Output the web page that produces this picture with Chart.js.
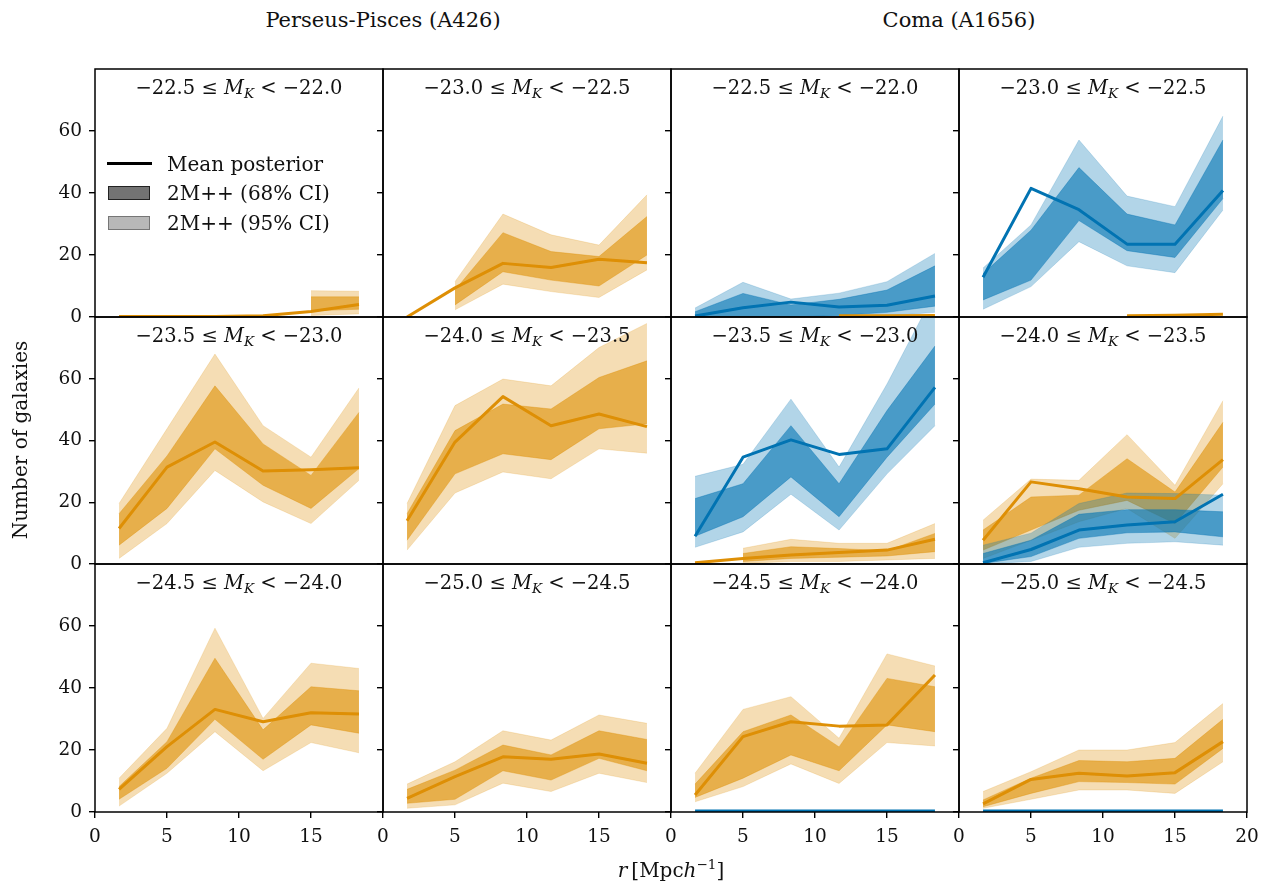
<!DOCTYPE html>
<html><head><meta charset="utf-8">
<script src="https://cdn.jsdelivr.net/npm/chart.js@4.4.0/dist/chart.umd.min.js"></script>
<style>
html,body{margin:0;padding:0;background:#fff}
body{width:1264px;height:883px;position:relative;overflow:hidden;font-family:"DejaVu Serif",serif;color:#111}
canvas{position:absolute}
.t{position:absolute;white-space:nowrap;font-size:20px;line-height:1;z-index:5}
.c{transform:translate(-50%,-50%)}
.ttl{font-size:19.5px}
.hdr{font-size:21px}
.sub{font-style:italic;font-size:13.5px;position:relative;top:4px}
.sup{font-size:13.5px;position:relative;top:-8px}
.sw{position:absolute;z-index:5;box-sizing:border-box}
</style></head><body>
<script>
// ---------------- data ----------------
const rBins = [1.67, 5.0, 8.33, 11.67, 15.0, 18.33];
const yTicks = [0, 20, 40, 60];
const xTicksInner = [0, 5, 10, 15];
const xTicksLast = [0, 5, 10, 15, 20];
const clusterNames = ['Perseus-Pisces (A426)', 'Coma (A1656)'];
const magLo = ['−22.5', '−23.0', '−23.5', '−24.0', '−24.5', '−25.0'];
const magHi = ['−22.0', '−22.5', '−23.0', '−23.5', '−24.0', '−24.5'];
const legendLabels = ['Mean posterior', '2M++ (68% CI)', '2M++ (95% CI)'];
const xLabelHTML = '<i>r</i>&thinsp;[Mpc<i>h</i><span class="sup">−1</span>]';
const yLabelText = 'Number of galaxies';

// Perseus-Pisces (orange)
const pp_b0_mean = [0.2, 0.2, 0.2, 0.4, 1.8, 4.0];
const pp_b0_lo95 = [null, null, null, null, 0.5, 1.0];
const pp_b0_hi95 = [null, null, null, null, 8.5, 8.3];
const pp_b0_lo68 = [null, null, null, null, 2.0, 2.5];
const pp_b0_hi68 = [null, null, null, null, 6.5, 6.5];

const pp_b1_mean = [0.0, 9.4, 17.3, 16.0, 18.6, 17.5];
const pp_b1_lo95 = [null, 2.3, 10.6, 8.2, 6.3, 15.2];
const pp_b1_hi95 = [null, 11.4, 33.2, 26.5, 23.2, 39.4];
const pp_b1_lo68 = [null, 3.9, 14.6, 11.9, 10.0, 20.0];
const pp_b1_hi68 = [null, 8.7, 27.2, 21.1, 19.5, 32.4];

const pp_b2_mean = [11.5, 31.4, 39.5, 30.1, 30.5, 31.2];
const pp_b2_lo95 = [1.8, 13.1, 30.3, 20.1, 13.1, 27.1];
const pp_b2_hi95 = [19.6, 43.8, 68.0, 44.8, 34.6, 57.0];
const pp_b2_lo68 = [6.1, 18.0, 37.3, 25.5, 18.0, 30.9];
const pp_b2_hi68 = [16.3, 35.0, 57.7, 38.9, 28.7, 49.1];

const pp_b3_mean = [14.0, 39.5, 54.2, 44.8, 48.6, 44.5];
const pp_b3_lo95 = [4.5, 23.0, 29.8, 27.6, 37.3, 35.9];
const pp_b3_hi95 = [19.6, 51.3, 59.9, 57.7, 70.1, 77.9];
const pp_b3_lo68 = [7.7, 29.2, 35.7, 33.8, 43.8, 45.4];
const pp_b3_hi68 = [16.3, 43.2, 51.8, 50.2, 60.4, 65.8];

const pp_b4_mean = [7.3, 21.1, 33.1, 29.1, 32.0, 31.6];
const pp_b4_lo95 = [1.9, 12.5, 25.9, 13.3, 22.4, 19.1];
const pp_b4_hi95 = [10.9, 27.0, 59.3, 30.2, 48.0, 46.3];
const pp_b4_lo68 = [4.1, 14.1, 29.9, 17.0, 28.1, 25.4];
const pp_b4_hi68 = [8.2, 22.7, 49.6, 26.5, 40.4, 39.1];

const pp_b5_mean = [4.4, 11.4, 17.8, 17.0, 18.7, 15.7];
const pp_b5_lo95 = [1.2, 2.3, 9.3, 6.6, 12.5, 9.5];
const pp_b5_hi95 = [9.0, 16.2, 26.2, 23.2, 31.3, 28.6];
const pp_b5_lo68 = [2.8, 4.1, 13.3, 10.3, 17.3, 13.3];
const pp_b5_hi68 = [7.3, 13.5, 21.6, 18.4, 26.2, 23.4];

// Coma: orange and blue series
const coma_b0_or_mean = [null, null, null, 0.4, 0.4, 0.5];
const coma_b0_bl_mean = [0.3, 3.0, 4.8, 3.2, 3.8, 6.8];
const coma_b0_bl_lo95 = [0.0, 0.0, 0.0, 0.0, 0.3, 1.5];
const coma_b0_bl_hi95 = [2.9, 11.2, 5.8, 7.7, 11.4, 20.5];
const coma_b0_bl_lo68 = [0.0, 0.0, 0.0, 0.5, 1.5, 3.5];
const coma_b0_bl_hi68 = [1.7, 7.6, 3.9, 5.7, 8.7, 16.5];

const coma_b1_or_mean = [null, null, null, 0.4, 0.6, 0.9];
const coma_b1_bl_mean = [12.8, 41.5, 34.6, 23.5, 23.5, 40.8];
const coma_b1_bl_lo95 = [2.5, 9.8, 24.3, 16.5, 14.3, 34.5];
const coma_b1_bl_hi95 = [15.8, 29.7, 57.1, 39.0, 35.6, 64.8];
const coma_b1_bl_lo68 = [5.5, 11.9, 31.1, 21.4, 19.2, 38.2];
const coma_b1_bl_hi68 = [14.0, 28.0, 48.2, 33.2, 29.7, 57.1];

const coma_b2_or_mean = [0.4, 1.8, 2.9, 3.7, 4.5, 8.0];
const coma_b2_or_lo95 = [null, 0.2, 0.8, 0.8, 1.3, 1.8];
const coma_b2_or_hi95 = [null, 5.1, 8.0, 6.7, 6.7, 13.1];
const coma_b2_or_lo68 = [null, 0.8, 1.8, 2.2, 2.6, 4.0];
const coma_b2_or_hi68 = [null, 3.4, 5.6, 5.0, 4.3, 9.9];
const coma_b2_bl_mean = [9.0, 34.6, 40.2, 35.5, 37.3, 57.2];
const coma_b2_bl_lo95 = [5.4, 10.4, 22.6, 11.0, 29.2, 44.8];
const coma_b2_bl_hi95 = [28.4, 32.3, 53.4, 31.4, 58.3, 88.0];
const coma_b2_bl_lo68 = [9.0, 15.3, 28.2, 15.3, 34.6, 51.8];
const coma_b2_bl_hi68 = [21.2, 26.0, 44.8, 26.0, 49.7, 70.6];

const coma_b3_or_mean = [7.7, 26.6, 24.4, 21.7, 21.2, 33.8];
const coma_b3_or_lo95 = [1.8, 7.7, 13.7, 18.0, 8.3, 26.0];
const coma_b3_or_hi95 = [14.2, 27.5, 27.1, 41.9, 25.5, 52.9];
const coma_b3_or_lo68 = [4.5, 11.0, 17.4, 20.6, 13.1, 31.4];
const coma_b3_or_hi68 = [11.0, 21.7, 22.3, 34.1, 23.3, 45.9];
const coma_b3_bl_mean = [0.4, 4.7, 11.0, 12.6, 13.7, 22.6];
const coma_b3_bl_lo95 = [0.0, 0.8, 5.4, 6.7, 7.2, 6.1];
const coma_b3_bl_hi95 = [6.1, 10.0, 19.6, 23.0, 22.8, 22.3];
const coma_b3_bl_lo68 = [0.2, 2.4, 8.3, 10.1, 10.4, 8.8];
const coma_b3_bl_hi68 = [3.4, 7.7, 16.1, 17.6, 17.6, 16.9];

const coma_b4_or_mean = [5.5, 24.3, 29.1, 27.7, 28.1, 44.2];
const coma_b4_or_lo95 = [3.3, 8.2, 15.5, 9.2, 22.4, 21.3];
const coma_b4_or_hi95 = [12.5, 33.1, 37.2, 23.8, 51.0, 47.1];
const coma_b4_or_lo68 = [4.7, 10.9, 18.4, 13.3, 28.1, 25.9];
const coma_b4_or_hi68 = [9.0, 25.9, 31.3, 21.0, 43.1, 40.4];
const coma_b4_bl_mean = [0.3, 0.3, 0.3, 0.3, 0.3, 0.3];

const coma_b5_or_mean = [2.6, 10.5, 12.5, 11.6, 12.7, 22.7];
const coma_b5_or_lo95 = [1.2, 4.1, 7.1, 7.1, 6.0, 16.2];
const coma_b5_or_hi95 = [6.6, 13.0, 20.0, 20.0, 22.4, 35.0];
const coma_b5_or_lo68 = [1.7, 6.0, 9.8, 9.5, 9.0, 20.5];
const coma_b5_or_hi68 = [3.9, 10.9, 16.6, 16.2, 17.3, 29.9];
const coma_b5_bl_mean = [0.3, 0.3, 0.3, 0.3, 0.3, 0.3];

// ---------------- style / layout ----------------
const ORANGE = [222, 143, 5];
const BLUE = [1, 115, 178];
const A95 = 0.3, A68 = 0.6;
const FONT = '"DejaVu Serif", serif';
const colLeft = [95, 383, 671, 959];
const rowTop = [69, 317, 564];
const rowH = [248, 247, 248];
const panelW = 288;
const padL = 60, padT = 10, padR = 20, padB = 50;

const S = (c, mean, lo68, hi68, lo95, hi95) => ({c, mean, lo68, hi68, lo95, hi95});
const panels = [
  {row:0, col:0, bin:0, series:[S(ORANGE, pp_b0_mean, pp_b0_lo68, pp_b0_hi68, pp_b0_lo95, pp_b0_hi95)]},
  {row:0, col:1, bin:1, series:[S(ORANGE, pp_b1_mean, pp_b1_lo68, pp_b1_hi68, pp_b1_lo95, pp_b1_hi95)]},
  {row:0, col:2, bin:0, series:[S(ORANGE, coma_b0_or_mean), S(BLUE, coma_b0_bl_mean, coma_b0_bl_lo68, coma_b0_bl_hi68, coma_b0_bl_lo95, coma_b0_bl_hi95)]},
  {row:0, col:3, bin:1, series:[S(ORANGE, coma_b1_or_mean), S(BLUE, coma_b1_bl_mean, coma_b1_bl_lo68, coma_b1_bl_hi68, coma_b1_bl_lo95, coma_b1_bl_hi95)]},
  {row:1, col:0, bin:2, series:[S(ORANGE, pp_b2_mean, pp_b2_lo68, pp_b2_hi68, pp_b2_lo95, pp_b2_hi95)]},
  {row:1, col:1, bin:3, series:[S(ORANGE, pp_b3_mean, pp_b3_lo68, pp_b3_hi68, pp_b3_lo95, pp_b3_hi95)]},
  {row:1, col:2, bin:2, series:[S(ORANGE, coma_b2_or_mean, coma_b2_or_lo68, coma_b2_or_hi68, coma_b2_or_lo95, coma_b2_or_hi95), S(BLUE, coma_b2_bl_mean, coma_b2_bl_lo68, coma_b2_bl_hi68, coma_b2_bl_lo95, coma_b2_bl_hi95)]},
  {row:1, col:3, bin:3, series:[S(ORANGE, coma_b3_or_mean, coma_b3_or_lo68, coma_b3_or_hi68, coma_b3_or_lo95, coma_b3_or_hi95), S(BLUE, coma_b3_bl_mean, coma_b3_bl_lo68, coma_b3_bl_hi68, coma_b3_bl_lo95, coma_b3_bl_hi95)]},
  {row:2, col:0, bin:4, series:[S(ORANGE, pp_b4_mean, pp_b4_lo68, pp_b4_hi68, pp_b4_lo95, pp_b4_hi95)]},
  {row:2, col:1, bin:5, series:[S(ORANGE, pp_b5_mean, pp_b5_lo68, pp_b5_hi68, pp_b5_lo95, pp_b5_hi95)]},
  {row:2, col:2, bin:4, series:[S(ORANGE, coma_b4_or_mean, coma_b4_or_lo68, coma_b4_or_hi68, coma_b4_or_lo95, coma_b4_or_hi95), S(BLUE, coma_b4_bl_mean)]},
  {row:2, col:3, bin:5, series:[S(ORANGE, coma_b5_or_mean, coma_b5_or_lo68, coma_b5_or_hi68, coma_b5_or_lo95, coma_b5_or_hi95), S(BLUE, coma_b5_bl_mean)]},
];

const rgba = (c, a) => `rgba(${c[0]},${c[1]},${c[2]},${a})`;
const pts = arr => rBins.map((x, i) => ({x, y: arr[i]}));

const framePlugin = {
  id: 'frame',
  afterDatasetsDraw(chart) {
    const {ctx, chartArea: a} = chart;
    ctx.save();
    ctx.strokeStyle = '#000';
    ctx.lineWidth = 1.5;
    ctx.strokeRect(a.left, a.top, a.right - a.left, a.bottom - a.top);
    ctx.restore();
  }
};

function buildDatasets(series) {
  const steps = [];  // in drawing order (first = bottom)
  series.forEach(s => {
    if (s.lo95) {
      steps.push({kind:'lo', data:s.lo95, c:s.c, a:A95});
      steps.push({kind:'hi', data:s.hi95, c:s.c, a:A95});
      steps.push({kind:'lo', data:s.lo68, c:s.c, a:A68});
      steps.push({kind:'hi', data:s.hi68, c:s.c, a:A68});
    }
  });
  series.forEach(s => steps.push({kind:'mean', data:s.mean, c:s.c}));
  const N = steps.length;
  return steps.map((st, i) => {
    const base = {data: pts(st.data), pointRadius: 0, pointHoverRadius: 0, spanGaps: false, tension: 0, order: N - i};
    if (st.kind === 'mean') {
      return Object.assign(base, {borderColor: rgba(st.c, 1), borderWidth: 3, fill: false, borderCapStyle: 'butt', borderJoinStyle: 'round'});
    }
    if (st.kind === 'lo') {
      return Object.assign(base, {borderColor: rgba(st.c, st.a * 0.6), borderWidth: 1, fill: false});
    }
    return Object.assign(base, {borderColor: rgba(st.c, st.a * 0.6), borderWidth: 1, fill: {target: i - 1}, backgroundColor: rgba(st.c, st.a)});
  });
}

panels.forEach(p => {
  const h = rowH[p.row];
  const cv = document.createElement('canvas');
  const W = padL + panelW + padR, H = padT + h + padB;
  cv.width = W; cv.height = H;
  cv.style.width = W + 'px'; cv.style.height = H + 'px';
  cv.style.left = (colLeft[p.col] - padL) + 'px';
  cv.style.top = (rowTop[p.row] - padT) + 'px';
  document.body.appendChild(cv);
  const bottomRow = p.row === 2;
  const xt = p.col === 3 ? xTicksLast : xTicksInner;
  new Chart(cv, {
    type: 'line',
    data: {datasets: buildDatasets(p.series)},
    plugins: [framePlugin],
    options: {
      responsive: false, animation: false, devicePixelRatio: 1, events: [],
      layout: {padding: {left: 0, top: padT, right: padR, bottom: 0}},
      plugins: {legend: {display: false}, tooltip: {enabled: false}, title: {display: false}},
      scales: {
        x: {
          type: 'linear', min: 0, max: 20,
          afterBuildTicks: s => { s.ticks = xt.map(v => ({value: v})); },
          afterFit: s => { s.height = padB; s.paddingLeft = 0; s.paddingRight = 0; s.paddingTop = 0; s.paddingBottom = 0; },
          border: {display: false},
          grid: {display: bottomRow, drawOnChartArea: false, drawTicks: true, tickLength: 6, color: '#000', lineWidth: 1.4},
          ticks: {display: bottomRow, padding: 8, maxRotation: 0, autoSkip: false, color: '#111', font: {family: FONT, size: 18.5}, callback: v => String(v)}
        },
        y: {
          type: 'linear', min: 0, max: 80,
          afterBuildTicks: s => { s.ticks = yTicks.map(v => ({value: v})); },
          afterFit: s => { s.width = padL; s.paddingLeft = 0; s.paddingRight = 0; s.paddingTop = 0; s.paddingBottom = 0; },
          border: {display: false},
          grid: {display: true, drawOnChartArea: false, drawTicks: true, tickLength: 6, color: '#000', lineWidth: 1.4},
          ticks: {display: p.col === 0, padding: 7, autoSkip: false, color: '#111', font: {family: FONT, size: 18.5}, callback: v => String(v)}
        }
      }
    }
  });
  // panel title
  const t = document.createElement('div');
  t.className = 't c ttl';
  t.style.left = (colLeft[p.col] + panelW / 2) + 'px';
  t.style.top = (rowTop[p.row] + 18.5) + 'px';
  t.innerHTML = `${magLo[p.bin]} ≤ <i>M</i><span class="sub">K</span> &lt; ${magHi[p.bin]}`;
  document.body.appendChild(t);
});

function addText(html, x, y, extra, cls) {
  const d = document.createElement('div');
  d.className = 't c' + (cls ? ' ' + cls : '');
  d.style.left = x + 'px'; d.style.top = y + 'px';
  d.innerHTML = html;
  if (extra) Object.assign(d.style, extra);
  document.body.appendChild(d);
  return d;
}
// column headers
addText(clusterNames[0], 383, 20, null, 'hdr');
addText(clusterNames[1], 959, 20, null, 'hdr');
// axis labels
addText(xLabelHTML, 671, 870);
addText(yLabelText, 20, 440, {transform: 'translate(-50%,-50%) rotate(-90deg)'});

// legend (inside first panel)
function sw(x, y, w, h, style) {
  const d = document.createElement('div');
  d.className = 'sw';
  Object.assign(d.style, {left: x + 'px', top: y + 'px', width: w + 'px', height: h + 'px'}, style);
  document.body.appendChild(d);
}
sw(107, 161.5, 45, 3, {background: '#000'});
sw(108, 186, 42, 14, {background: 'rgba(0,0,0,0.55)', border: '1.5px solid rgba(0,0,0,0.7)'});
sw(108, 216, 42, 14, {background: 'rgba(0,0,0,0.28)', border: '1.5px solid rgba(0,0,0,0.36)'});
[164, 193, 223].forEach((y, i) => {
  const d = document.createElement('div');
  d.className = 't';
  d.style.left = '167px'; d.style.top = (y - 10) + 'px';
  d.textContent = legendLabels[i];
  document.body.appendChild(d);
});
</script>
</body></html>
